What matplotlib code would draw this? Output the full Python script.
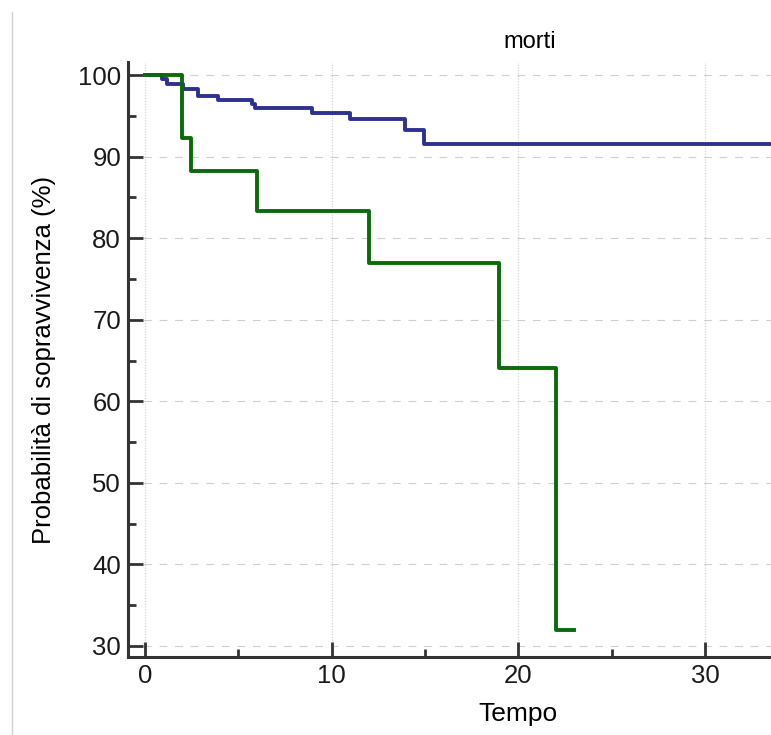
import numpy as np
import matplotlib.pyplot as plt
from matplotlib.lines import Line2D

plt.rcParams['font.family'] = ['Liberation Sans', 'DejaVu Sans']

# Kaplan-Meier curves (time, survival %)
blue_t = [0, 0.89, 1.16, 2.05, 2.86, 3.93, 5.71, 5.89, 8.93, 10.98, 13.93, 14.94, 34]
blue_s = [100, 99.5, 98.9, 98.3, 97.4, 96.9, 96.4, 95.9, 95.4, 94.6, 93.3, 91.6, 91.6]

green_t = [0, 2.0, 2.45, 6.0, 12.0, 18.95, 22.0, 23.0]
green_s = [100, 92.3, 88.2, 83.3, 76.9, 64.1, 32.0, 32.0]

xticks = [0, 10, 20, 30]
yticks = [30, 40, 50, 60, 70, 80, 90, 100]

fig = plt.figure(figsize=(7.71, 7.35), dpi=100)
ax = fig.add_axes([128/771, 1 - 657/735, 1 - 128/771, (657 - 62)/735])

# grid (faint, broken like the original)
for y in yticks:
    ax.axhline(y, color='#cfcfcf', lw=0.8, ls=(0, (7, 7)), zorder=0)
for x in xticks:
    ax.axvline(x, color='#cfcfcf', lw=0.8, ls=(0, (1, 1.5)), zorder=0)

ax.step(blue_t, blue_s, where='post', color='#2e3192', lw=2.8, zorder=3)
ax.step(green_t, green_s, where='post', color='#0b6b0b', lw=2.8, zorder=3)

ax.set_xlim(-0.91, 33.53)
ax.set_ylim(28.65, 101.6)

for s in ['top', 'right']:
    ax.spines[s].set_visible(False)
for s in ['left', 'bottom']:
    ax.spines[s].set_linewidth(2.2)
    ax.spines[s].set_color('#333333')

ax.set_xticks(xticks)
ax.set_yticks(yticks)
ax.set_xticks([5, 15, 25], minor=True)
ax.set_yticks([35, 45, 55, 65, 75, 85, 95], minor=True)
ax.tick_params(which='major', direction='in', length=11, width=2, color='#333333',
               labelsize=18.5, labelcolor='#1a1a1a', pad=5)
ax.tick_params(which='minor', direction='in', length=6, width=2, color='#333333')

ax.set_xlabel('Tempo', fontsize=19)
ax.xaxis.set_label_coords(0.6065, -0.076)
ax.set_ylabel('Probabilità di sopravvivenza (%)', fontsize=18.5, labelpad=16)

fig.text(530/771, 1 - 42/735, 'morti', fontsize=17, ha='center', va='center')

# left border line of the original frame
fig.add_artist(Line2D([12/771, 12/771], [0, 1 - 12/735], color='#d0d0d0', lw=1,
                      transform=fig.transFigure))

fig.savefig('out.png', dpi=100)
